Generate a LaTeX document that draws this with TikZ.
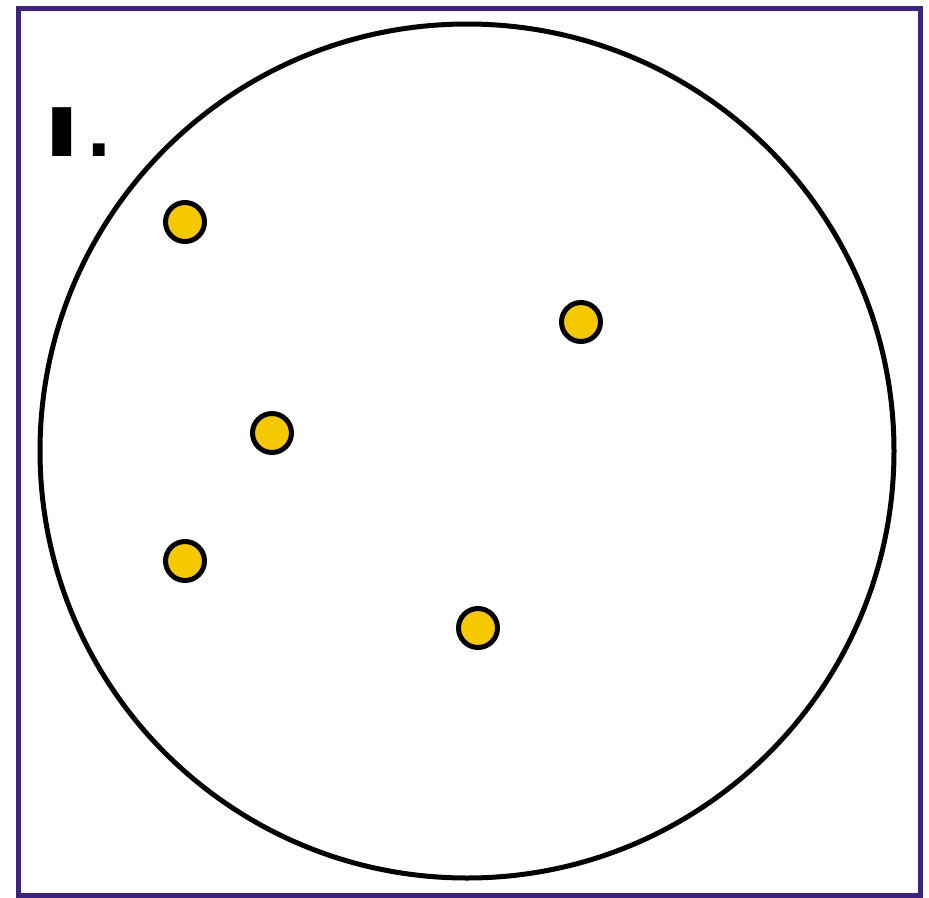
\documentclass[tikz,border=0pt]{standalone}
\usepackage{fontspec}
\usepackage{graphicx}
\newfontfamily\labelfont{DejaVu Sans}
\definecolor{framecol}{RGB}{62,34,128}
\definecolor{dotyellow}{RGB}{245,200,0}
\begin{document}
\begin{tikzpicture}[x=1pt,y=-1pt,
  dotstyle/.style={circle,draw=black,line width=5pt,fill=dotyellow,minimum size=39pt,inner sep=0pt},
  bigcircle/.style={circle,draw=black,line width=5pt,minimum size=854pt,inner sep=0pt}]
\useasboundingbox (0,0) rectangle (929,897);
\draw[framecol,line width=5pt] (18,8.5) rectangle (920,895);
\node[bigcircle] (c) at (467,451) {};
\node[anchor=base west,inner sep=0pt,font=\labelfont\bfseries\fontsize{67}{67}\selectfont] (lab) at (43,156) {\scalebox{1.5}[1]{I}\kern6pt.};
\node[dotstyle] (d1) at (185,222) {};
\node[dotstyle] (d2) at (581,322) {};
\node[dotstyle] (d3) at (272,433) {};
\node[dotstyle] (d4) at (185,561) {};
\node[dotstyle] (d5) at (478,628) {};
\end{tikzpicture}
\end{document}
